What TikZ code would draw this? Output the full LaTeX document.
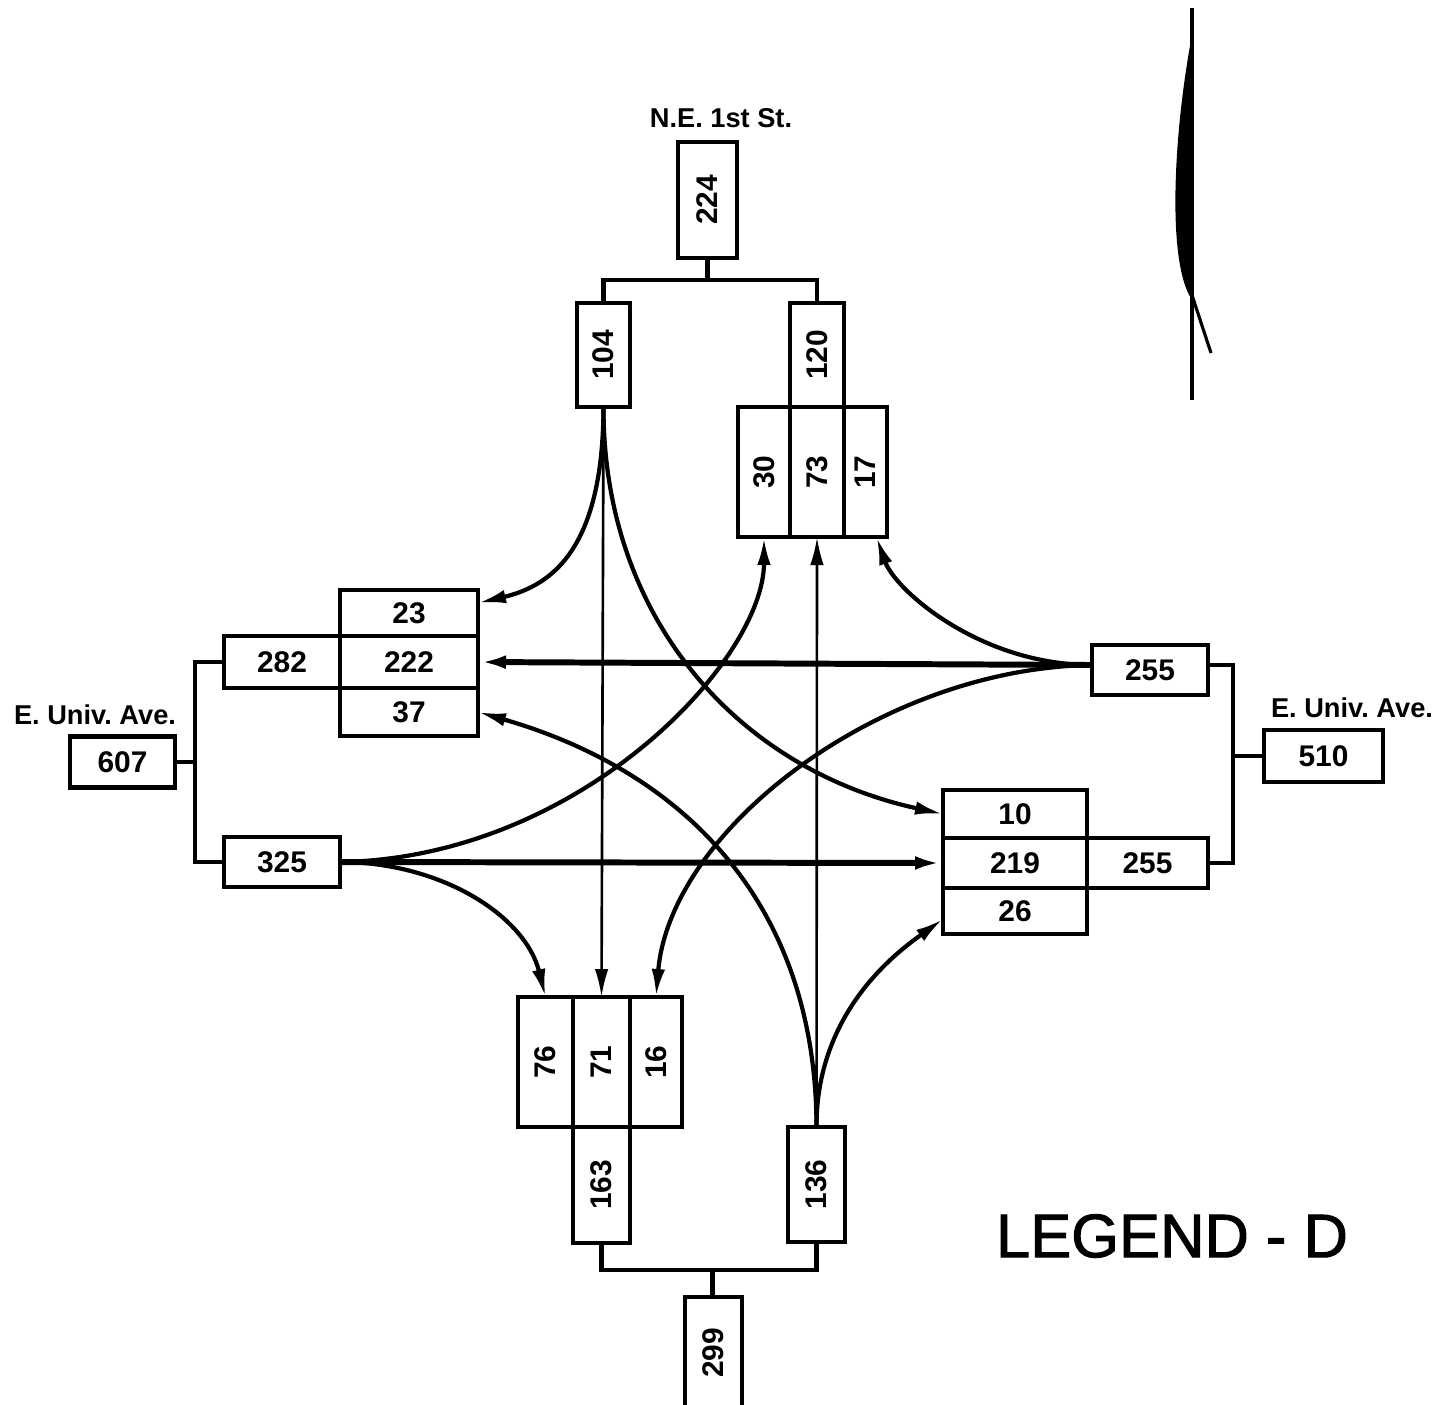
\documentclass[tikz,border=0pt]{standalone}
\usepackage{fontspec}
\setmainfont{Liberation Sans}
\newfontfamily\legendfont[FakeBold=1.6]{Liberation Sans}
\usetikzlibrary{arrows.meta}
\frenchspacing

\begin{document}
\begin{tikzpicture}[x=0.02cm,y=-0.02cm,>={Latex[length=0.56cm,width=0.27cm]},
    cell/.style={draw,line width=2.5pt,inner sep=0pt,outer sep=0pt,font=\fontsize{17}{17}\selectfont\bfseries},
    street/.style={font=\fontsize{15.5}{16}\selectfont\bfseries},
    feed/.style={line width=2.5pt},
    flow/.style={->,line width=2.4pt},
    main/.style={->,line width=3.4pt},
    thru/.style={->,line width=1.5pt}]
    \useasboundingbox (0,0) rectangle (1452,1404);

    % cells with upright counts
    \foreach \name/\x/\y/\w/\h/\txt in {n23/409/613/138/46/23,n222/409/662/138/52/222,n37/409/712/138/48/37,
        n282/282/662/116/52/282,n607/122.5/762/105/51/607,n325/282/862/116/50/325,
        n10/1015/814/144/48/10,n219/1015/863/144/50/219,n26/1015/911/144/46/26,
        n255b/1147.5/863/121/50/255,n255a/1150/670/116/50/255,n510/1323.5/756/119/52/510} {
        \node[cell,minimum width=\w*0.02cm,minimum height=\h*0.02cm] (\name) at (\x,\y) {\txt};
    }
    % cells with turned counts
    \foreach \name/\x/\y/\w/\h/\txt in {n224/707.5/200/59/116/224,n104/603.5/355/53/104/104,n120/817/355/54/104/120,
        n30/764/472/52/130/30,n73/817/472/54/130/73,n17/865.5/472/43/130/17,
        n76/545.5/1062/55/130/76,n71/601.5/1062/57/130/71,n16/656/1062/52/130/16,
        n163/601.5/1185/57/116/163,n136/816.5/1184.5/57/115/136,n299/713.5/1353/57/112/299} {
        \node[cell,minimum width=\w*0.02cm,minimum height=\h*0.02cm] (\name) at (\x,\y) {\rotatebox{90}{\txt}};
    }

    % approach splits
    \coordinate (jt) at (707.5,280);
    \draw[feed] (n224.south) -- (jt);
    \draw[feed] (n104.north) |- (jt) -| (n120.north);
    \coordinate (jl) at (195,762);
    \draw[feed] (n607.east) -- (jl);
    \draw[feed] (n282.west) -| (jl) |- (n325.west);
    \coordinate (jr) at (1233,756);
    \draw[feed] (n510.west) -- (jr);
    \draw[feed] ([yshift=0.1cm]n255a.east) -| (jr) |- (n255b.east);
    \coordinate (jb) at (712.5,1270);
    \draw[feed] (n163.south) |- (jb) -| (n136.south);
    \draw[feed] (jb) -- (jb |- n299.north);

    % turning movements
    \draw[flow] (n104.south) .. controls (603,545) and (555,585) .. ([yshift=0.2cm]n23.east);
    \draw[thru] (n104.south) -- (n71.north);
    \draw[flow] (n104.south) .. controls (603,620) and (740,770) .. (n10.west);
    \draw[flow] (n325.east) .. controls (580,858) and (764,660) .. (n30.south);
    \draw[main] (n325.east) -- (n219.west);
    \draw[flow] (n325.east) .. controls (440,862) and (525,915) .. (n76.north);
    \draw[flow] (n136.north) .. controls (816,900) and (680,770) .. (n37.east);
    \draw[thru] (n136.north) -- (n73.south);
    \draw[flow] (n136.north) .. controls (816,1010) and (900,950) .. ([yshift=-0.16cm]n26.west);
    \draw[main] ([yshift=0.1cm]n255a.west) -- (n222.east);
    \draw[flow] ([yshift=0.1cm]n255a.west) .. controls (980,665) and (895,590) .. ([xshift=0.22cm]n17.south);
    \draw[flow] ([yshift=0.1cm]n255a.west) .. controls (880,668) and (670,830) .. (n16.north);

    \node[street] (north) at (721,118) {N.E. 1st St.};
    \node[street] (west) at (95,715) {E. Univ. Ave.};
    \node[street] (east) at (1352,708) {E. Univ. Ave.};
    \node[font=\fontsize{35}{35}\legendfont] (legend) at (1172,1236) {LEGEND - D};

    % north arrow
    \draw[line width=1.8pt] (1192,8) -- (1192,400);
    \fill (1193,30) .. controls (1175,120) and (1165,260) .. (1192,300) -- cycle;
    \draw[line width=1.8pt] (1187,280) -- (1211,353);
\end{tikzpicture}
\end{document}
